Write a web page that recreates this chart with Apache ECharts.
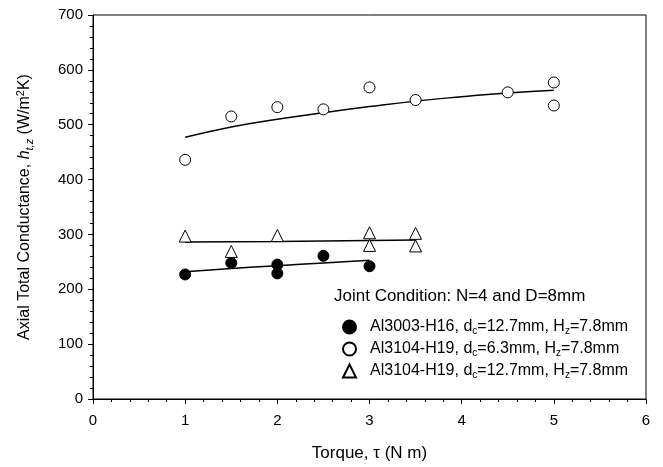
<!DOCTYPE html>
<html><head><meta charset="utf-8">
<script src="https://cdn.jsdelivr.net/npm/echarts@6/dist/echarts.min.js"></script>
<style>html,body{margin:0;padding:0;background:#fff}#c{width:663px;height:467px}</style>
</head><body><div id="c"></div>
<script>
// Measured data
var al3003_x = [1, 1.5, 2, 2, 2.5, 3];
var al3003_y = [227, 248, 245, 229, 261, 242];
var al3003_fitX = [1, 1.5, 2, 2.5, 3];
var al3003_fitY = [232, 238, 243, 248, 253];

var al3104a_x = [1, 1.5, 2, 2.5, 3, 3.5, 4.5, 5, 5];
var al3104a_y = [436, 515, 532, 528, 568, 545, 559, 577, 535];
var al3104a_fitX = [1, 1.5, 2, 2.5, 3, 3.5, 4, 4.5, 5];
var al3104a_fitY = [477, 496, 510, 522, 533, 543, 551, 558, 563];

var al3104b_x = [1, 1.5, 2, 3, 3, 3.5, 3.5];
var al3104b_y = [297, 269, 298, 303, 280, 302, 279];
var al3104b_fitX = [1, 2, 3, 3.5];
var al3104b_fitY = [286, 287, 289, 290];

var seriesNames = ['Al3003-H16', 'Al3104-H19 a', 'Al3104-H19 b'];
var legendLabels = {
  'Al3003-H16': '{n|Al3003-H16, d}{s|c}{n|=12.7mm, H}{s|z}{n|=7.8mm}',
  'Al3104-H19 a': '{n|Al3104-H19, d}{s|c}{n|=6.3mm, H}{s|z}{n|=7.8mm}',
  'Al3104-H19 b': '{n|Al3104-H19, d}{s|c}{n|=12.7mm, H}{s|z}{n|=7.8mm}'
};

function pairs(xs, ys){ return xs.map(function(x,i){return [x, ys[i]];}); }

var FONT = '"Liberation Sans", Arial, sans-serif';
var chart = echarts.init(document.getElementById('c'));
var axisCommon = {
  axisLine: {show: true, lineStyle: {color: '#000', width: 1}},
  axisTick: {show: true, length: 5, lineStyle: {color: '#000'}},
  minorTick: {show: true, splitNumber: 5, length: 3, lineStyle: {color: '#000'}},
  splitLine: {show: false},
  axisLabel: {color: '#000', fontSize: 15, fontFamily: FONT}
};
chart.setOption({
  animation: false,
  backgroundColor: '#fff',
  grid: {left: 93, right: 17, top: 15, bottom: 67, show: true, borderColor: '#000', borderWidth: 1},
  title: {
    text: 'Joint Condition: N=4 and D=8mm', left: 329, top: 283,
    textStyle: {fontSize: 17, fontWeight: 'normal', color: '#000', fontFamily: FONT}
  },
  legend: {
    orient: 'vertical', left: 337, top: 313, itemGap: 4, itemWidth: 13, itemHeight: 13,
    data: seriesNames,
    formatter: function(n){ return legendLabels[n]; },
    textStyle: {
      color: '#000', fontFamily: FONT, padding: [0,0,0,9],
      rich: {
        n: {fontSize: 16, fontFamily: FONT, color: '#000', lineHeight: 18},
        s: {fontSize: 10, fontFamily: FONT, color: '#000', lineHeight: 18, verticalAlign: 'bottom', padding: [8,0,0,0]}
      }
    }
  },
  xAxis: Object.assign({}, axisCommon, {
    type: 'value', min: 0, max: 6, interval: 1,
    name: 'Torque, τ (N m)', nameLocation: 'middle', nameGap: 46,
    nameTextStyle: {fontSize: 17, color: '#000', fontFamily: FONT},
    axisLabel: Object.assign({}, axisCommon.axisLabel, {margin: 14})
  }),
  yAxis: Object.assign({}, axisCommon, {
    type: 'value', min: 0, max: 700, interval: 100,
    name: '{n|Axial Total Conductance, }{i|h}{is|t,z}{n| (W/m}{sup|2}{n|K)}',
    nameLocation: 'middle', nameGap: 58,
    nameTextStyle: {
      fontSize: 16, color: '#000', fontFamily: FONT,
      rich: {
        n: {fontSize: 16, fontFamily: FONT, color: '#000', lineHeight: 20},
        i: {fontSize: 16, fontFamily: FONT, fontStyle: 'italic', color: '#000', lineHeight: 20},
        is: {fontSize: 11, fontFamily: FONT, fontStyle: 'italic', color: '#000', lineHeight: 20, verticalAlign: 'bottom', padding: [8,0,0,0]},
        sup: {fontSize: 11, fontFamily: FONT, color: '#000', lineHeight: 20, verticalAlign: 'top', padding: [0,0,6,0]}
      }
    },
    axisLabel: Object.assign({}, axisCommon.axisLabel, {margin: 10})
  }),
  series: [
    {name: seriesNames[0], type: 'scatter', symbol: 'circle', symbolSize: 11,
     itemStyle: {color: '#000', borderColor: '#000', borderWidth: 1, opacity: 1},
     data: pairs(al3003_x, al3003_y), z: 3},
    {name: seriesNames[1], type: 'scatter', symbol: 'circle', symbolSize: 11,
     itemStyle: {color: '#fff', borderColor: '#000', borderWidth: 1, opacity: 1},
     data: pairs(al3104a_x, al3104a_y), z: 3},
    {name: seriesNames[2], type: 'scatter', symbol: 'triangle', symbolSize: 12,
     itemStyle: {color: '#fff', borderColor: '#000', borderWidth: 1, opacity: 1},
     data: pairs(al3104b_x, al3104b_y), z: 3},
    {name: 'fit1', type: 'line', smooth: true, showSymbol: false, lineStyle: {color: '#000', width: 1.5},
     data: pairs(al3003_fitX, al3003_fitY), z: 2},
    {name: 'fit2', type: 'line', smooth: true, showSymbol: false, lineStyle: {color: '#000', width: 1.5},
     data: pairs(al3104a_fitX, al3104a_fitY), z: 2},
    {name: 'fit3', type: 'line', smooth: true, showSymbol: false, lineStyle: {color: '#000', width: 1.5},
     data: pairs(al3104b_fitX, al3104b_fitY), z: 2}
  ]
});
</script></body></html>
